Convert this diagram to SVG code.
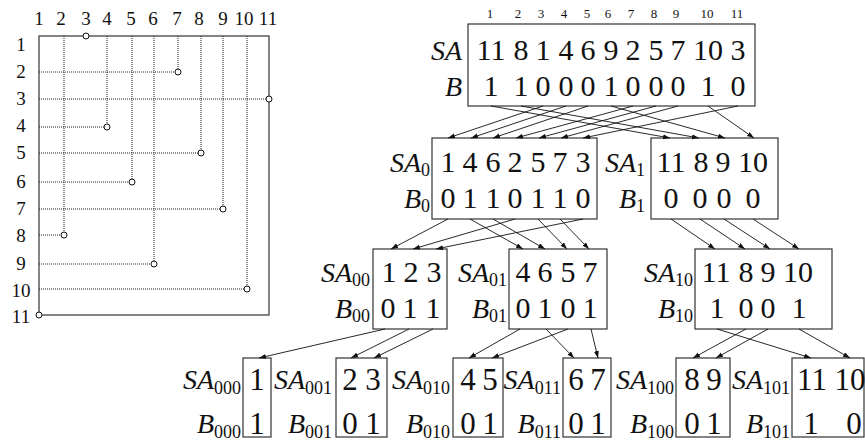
<svg xmlns="http://www.w3.org/2000/svg" width="865" height="441" viewBox="0 0 865 441">
<style>
text{font-family:"Liberation Serif","Times New Roman",serif;fill:#111}
.ax{font-size:19px;text-anchor:middle}
.ix{font-size:13px;text-anchor:middle}
.d{font-size:30px;text-anchor:middle}
.d4{font-size:31px;text-anchor:middle}
.lb{font-size:28px;font-style:italic;text-anchor:end}
.lb tspan{font-size:18px;font-style:normal}
.box{fill:none;stroke:#333;stroke-width:1.2}
.dot{stroke:#222;stroke-width:1;stroke-dasharray:1 1;fill:none}
.pt{fill:#fff;stroke:#111;stroke-width:1}
.ar{stroke:#111;stroke-width:0.9;fill:none;marker-end:url(#ah)}
</style>
<defs>
<marker id="ah" markerUnits="userSpaceOnUse" markerWidth="8" markerHeight="6" refX="7" refY="2.5" orient="auto">
<path d="M0,0 L7,2.5 L0,5 z" fill="#111"/>
</marker>
</defs>

<g id="grid-plot">
<text class="ax" x="39" y="25">1</text><text class="ax" x="61" y="25">2</text><text class="ax" x="86" y="25">3</text><text class="ax" x="107" y="25">4</text><text class="ax" x="131" y="25">5</text><text class="ax" x="153" y="25">6</text><text class="ax" x="177" y="25">7</text><text class="ax" x="199" y="25">8</text><text class="ax" x="223" y="25">9</text><text class="ax" x="244" y="25">10</text><text class="ax" x="268" y="25">11</text>
<text class="ax" x="21" y="51">1</text><text class="ax" x="21" y="78">2</text><text class="ax" x="21" y="105">3</text><text class="ax" x="21" y="132">4</text><text class="ax" x="21" y="159">5</text><text class="ax" x="21" y="188">6</text><text class="ax" x="21" y="215">7</text><text class="ax" x="21" y="242">8</text><text class="ax" x="21" y="270">9</text><text class="ax" x="21" y="297">10</text><text class="ax" x="21" y="323">11</text>
<path class="dot" d="M64,36V235 M107,36V127 M132,36V182 M154,36V264 M178,36V72 M201,36V153 M223,36V209 M247,36V289"/>
<path class="dot" d="M39,72H178 M39,99H269 M39,127H107 M39,153H201 M39,182H132 M39,209H223 M39,235H64 M39,264H154 M39,289H247"/>
<rect class="box" x="39" y="36" width="230" height="279"/>
<circle class="pt" cx="86" cy="36" r="3"/><circle class="pt" cx="178" cy="72" r="3"/><circle class="pt" cx="269" cy="99" r="3"/><circle class="pt" cx="107" cy="127" r="3"/><circle class="pt" cx="201" cy="153" r="3"/><circle class="pt" cx="132" cy="182" r="3"/><circle class="pt" cx="223" cy="209" r="3"/><circle class="pt" cx="64" cy="235" r="3"/><circle class="pt" cx="154" cy="264" r="3"/><circle class="pt" cx="247" cy="289" r="3"/><circle class="pt" cx="39" cy="315" r="3"/>
</g>

<g id="node-SA">
<text class="ix" x="490" y="18">1</text><text class="ix" x="518" y="18">2</text><text class="ix" x="541" y="18">3</text><text class="ix" x="564" y="18">4</text><text class="ix" x="587" y="18">5</text><text class="ix" x="608" y="18">6</text><text class="ix" x="631" y="18">7</text><text class="ix" x="654" y="18">8</text><text class="ix" x="676" y="18">9</text><text class="ix" x="707" y="18">10</text><text class="ix" x="737" y="18">11</text>
<rect class="box" x="468" y="24" width="287" height="82"/>
<text class="lb" x="462" y="60">SA</text><text class="lb" x="462" y="96">B</text>
<text class="d" x="491" y="60">11</text><text class="d" x="521" y="60">8</text><text class="d" x="543" y="60">1</text><text class="d" x="566" y="60">4</text><text class="d" x="588" y="60">6</text><text class="d" x="611" y="60">9</text><text class="d" x="633" y="60">2</text><text class="d" x="656" y="60">5</text><text class="d" x="678" y="60">7</text><text class="d" x="708" y="60">10</text><text class="d" x="738" y="60">3</text>
<text class="d" x="491" y="96">1</text><text class="d" x="521" y="96">1</text><text class="d" x="543" y="96">0</text><text class="d" x="566" y="96">0</text><text class="d" x="588" y="96">0</text><text class="d" x="611" y="96">1</text><text class="d" x="633" y="96">0</text><text class="d" x="656" y="96">0</text><text class="d" x="678" y="96">0</text><text class="d" x="708" y="96">1</text><text class="d" x="738" y="96">0</text>
</g>

<g id="node-SA0">
<rect class="box" x="432" y="138" width="165" height="81"/>
<text class="lb" x="430" y="172">SA<tspan dy="4">0</tspan></text><text class="lb" x="430" y="208">B<tspan dy="4">0</tspan></text>
<text class="d" x="448" y="172">1</text><text class="d" x="470" y="172">4</text><text class="d" x="493" y="172">6</text><text class="d" x="515" y="172">2</text><text class="d" x="538" y="172">5</text><text class="d" x="560" y="172">7</text><text class="d" x="583" y="172">3</text>
<text class="d" x="448" y="208">0</text><text class="d" x="470" y="208">1</text><text class="d" x="493" y="208">1</text><text class="d" x="515" y="208">0</text><text class="d" x="538" y="208">1</text><text class="d" x="560" y="208">1</text><text class="d" x="583" y="208">0</text>
</g>

<g id="node-SA1">
<rect class="box" x="651" y="138" width="127" height="81"/>
<text class="lb" x="645" y="172">SA<tspan dy="4">1</tspan></text><text class="lb" x="645" y="208">B<tspan dy="4">1</tspan></text>
<text class="d" x="671" y="172">11</text><text class="d" x="701" y="172">8</text><text class="d" x="723" y="172">9</text><text class="d" x="753" y="172">10</text>
<text class="d" x="671" y="208">0</text><text class="d" x="700" y="208">0</text><text class="d" x="724" y="208">0</text><text class="d" x="753" y="208">0</text>
</g>

<g id="node-SA00">
<rect class="box" x="373" y="249" width="74" height="80"/>
<text class="lb" x="370" y="282">SA<tspan dy="4">00</tspan></text><text class="lb" x="370" y="318">B<tspan dy="4">00</tspan></text>
<text class="d" x="389" y="282">1</text><text class="d" x="411" y="282">2</text><text class="d" x="434" y="282">3</text>
<text class="d" x="388" y="318">0</text><text class="d" x="410" y="318">1</text><text class="d" x="433" y="318">1</text>
</g>

<g id="node-SA01">
<rect class="box" x="509" y="249" width="98" height="80"/>
<text class="lb" x="507" y="282">SA<tspan dy="4">01</tspan></text><text class="lb" x="507" y="318">B<tspan dy="4">01</tspan></text>
<text class="d" x="523" y="282">4</text><text class="d" x="545" y="282">6</text><text class="d" x="568" y="282">5</text><text class="d" x="590" y="282">7</text>
<text class="d" x="523" y="318">0</text><text class="d" x="545" y="318">1</text><text class="d" x="568" y="318">0</text><text class="d" x="590" y="318">1</text>
</g>

<g id="node-SA10">
<rect class="box" x="695" y="249" width="137" height="80"/>
<text class="lb" x="693" y="282">SA<tspan dy="4">10</tspan></text><text class="lb" x="693" y="318">B<tspan dy="4">10</tspan></text>
<text class="d" x="716" y="282">11</text><text class="d" x="746" y="282">8</text><text class="d" x="768" y="282">9</text><text class="d" x="798" y="282">10</text>
<text class="d" x="717" y="318">1</text><text class="d" x="746" y="318">0</text><text class="d" x="768" y="318">0</text><text class="d" x="799" y="318">1</text>
</g>

<g id="node-SA000">
<rect class="box" x="243" y="358" width="28" height="79"/>
<text class="lb" x="241" y="389">SA<tspan dy="5">000</tspan></text><text class="lb" x="241" y="433">B<tspan dy="5">000</tspan></text>
<text class="d4" x="257" y="390">1</text><text class="d4" x="257" y="434">1</text>
</g>

<g id="node-SA001">
<rect class="box" x="336" y="358" width="51" height="79"/>
<text class="lb" x="332" y="389">SA<tspan dy="5">001</tspan></text><text class="lb" x="332" y="433">B<tspan dy="5">001</tspan></text>
<text class="d4" x="350" y="390">2</text><text class="d4" x="373" y="390">3</text>
<text class="d4" x="350" y="434">0</text><text class="d4" x="373" y="434">1</text>
</g>

<g id="node-SA010">
<rect class="box" x="453" y="358" width="50" height="79"/>
<text class="lb" x="450" y="389">SA<tspan dy="5">010</tspan></text><text class="lb" x="450" y="433">B<tspan dy="5">010</tspan></text>
<text class="d4" x="468" y="390">4</text><text class="d4" x="490" y="390">5</text>
<text class="d4" x="468" y="434">0</text><text class="d4" x="490" y="434">1</text>
</g>

<g id="node-SA011">
<rect class="box" x="563" y="358" width="48" height="79"/>
<text class="lb" x="561" y="389">SA<tspan dy="5">011</tspan></text><text class="lb" x="561" y="433">B<tspan dy="5">011</tspan></text>
<text class="d4" x="576" y="390">6</text><text class="d4" x="598" y="390">7</text>
<text class="d4" x="576" y="434">0</text><text class="d4" x="598" y="434">1</text>
</g>

<g id="node-SA100">
<rect class="box" x="676" y="358" width="54" height="79"/>
<text class="lb" x="674" y="389">SA<tspan dy="5">100</tspan></text><text class="lb" x="674" y="433">B<tspan dy="5">100</tspan></text>
<text class="d4" x="692" y="390">8</text><text class="d4" x="714" y="390">9</text>
<text class="d4" x="692" y="434">0</text><text class="d4" x="714" y="434">1</text>
</g>

<g id="node-SA101">
<rect class="box" x="792" y="358" width="72" height="79"/>
<text class="lb" x="790" y="389">SA<tspan dy="5">101</tspan></text><text class="lb" x="790" y="433">B<tspan dy="5">101</tspan></text>
<text class="d4" x="812" y="390">11</text><text class="d4" x="850" y="390">10</text>
<text class="d4" x="811" y="434">1</text><text class="d4" x="854" y="434">0</text>
</g>

<g id="connectors">
<line class="ar" x1="491" y1="106" x2="670" y2="138"/>
<line class="ar" x1="521" y1="106" x2="699" y2="138"/>
<line class="ar" x1="543" y1="106" x2="448" y2="138"/>
<line class="ar" x1="566" y1="106" x2="471" y2="138"/>
<line class="ar" x1="588" y1="106" x2="493" y2="138"/>
<line class="ar" x1="611" y1="106" x2="725" y2="138"/>
<line class="ar" x1="633" y1="106" x2="516" y2="138"/>
<line class="ar" x1="656" y1="106" x2="539" y2="138"/>
<line class="ar" x1="678" y1="106" x2="561" y2="138"/>
<line class="ar" x1="708" y1="106" x2="754" y2="138"/>
<line class="ar" x1="738" y1="106" x2="583" y2="138"/>

<line class="ar" x1="448" y1="219" x2="391" y2="249"/>
<line class="ar" x1="470" y1="219" x2="523" y2="249"/>
<line class="ar" x1="493" y1="219" x2="545" y2="249"/>
<line class="ar" x1="515" y1="219" x2="413" y2="249"/>
<line class="ar" x1="538" y1="219" x2="567" y2="249"/>
<line class="ar" x1="560" y1="219" x2="589" y2="249"/>
<line class="ar" x1="583" y1="219" x2="436" y2="249"/>
<line class="ar" x1="671" y1="219" x2="715" y2="249"/>
<line class="ar" x1="700" y1="219" x2="745" y2="249"/>
<line class="ar" x1="724" y1="219" x2="770" y2="249"/>
<line class="ar" x1="753" y1="219" x2="799" y2="249"/>

<line class="ar" x1="385" y1="329" x2="259" y2="358"/>
<line class="ar" x1="409" y1="329" x2="351" y2="358"/>
<line class="ar" x1="433" y1="329" x2="374" y2="358"/>
<line class="ar" x1="520" y1="329" x2="469" y2="358"/>
<line class="ar" x1="546" y1="329" x2="574" y2="358"/>
<line class="ar" x1="568" y1="329" x2="492" y2="358"/>
<line class="ar" x1="591" y1="329" x2="598" y2="358"/>
<line class="ar" x1="717" y1="329" x2="811" y2="358"/>
<line class="ar" x1="746" y1="329" x2="693" y2="358"/>
<line class="ar" x1="768" y1="329" x2="716" y2="358"/>
<line class="ar" x1="799" y1="329" x2="850" y2="358"/>
</g>
</svg>
